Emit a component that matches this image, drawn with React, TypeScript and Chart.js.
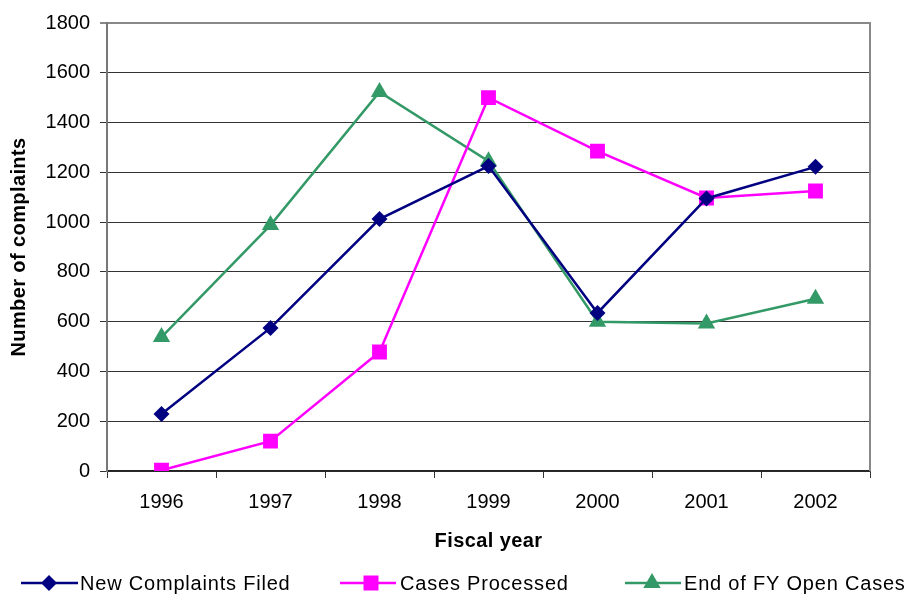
import React, { useEffect, useRef } from "react";
import { Chart, registerables } from "chart.js";

Chart.register(...registerables);

const years = ["1996", "1997", "1998", "1999", "2000", "2001", "2002"];
const newComplaints = [229, 575, 1012, 1225, 635, 1095, 1222];
const casesProcessed = [3, 120, 478, 1500, 1285, 1097, 1125];
const openCases = [538, 988, 1523, 1245, 600, 593, 692];
const seriesNames = ["New Complaints Filed", "Cases Processed", "End of FY Open Cases"];
const seriesColors = ["#000080", "#FF00FF", "#339966"];
const seriesShapes = ["rectRot", "rect", "triangle"];
const seriesRadius = [8, 10.5, 10];

const FONT = "'Liberation Sans', Arial, sans-serif";

const overlay = {
  id: "overlay",
  afterDraw(chart: any) {
    const ctx = chart.ctx;
    const a = chart.chartArea;
    ctx.save();
    // right border
    ctx.strokeStyle = "#888888";
    ctx.lineWidth = 2;
    ctx.beginPath();
    ctx.moveTo(a.right, a.top - 1);
    ctx.lineTo(a.right, a.bottom);
    ctx.stroke();
    // axis titles
    ctx.fillStyle = "#000";
    ctx.font = `bold 20px ${FONT}`;
    ctx.textAlign = "center";
    ctx.textBaseline = "middle";
    (ctx as any).letterSpacing = "0.4px";
    ctx.fillText("Fiscal year", (a.left + a.right) / 2, 541);
    ctx.save();
    ctx.translate(19, (a.top + a.bottom) / 2);
    ctx.rotate(-Math.PI / 2);
    ctx.fillText("Number of complaints", 0, 0);
    ctx.restore();
    // legend
    const items = [
      { x0: 21, x1: 78, cx: 49, tx: 80 },
      { x0: 340, x1: 396, cx: 371, tx: 400 },
      { x0: 625, x1: 681, cx: 652, tx: 684 },
    ];
    const ly = 583;
    ctx.font = `20px ${FONT}`;
    (ctx as any).letterSpacing = "0.8px";
    ctx.textAlign = "left";
    items.forEach((it, i) => {
      ctx.strokeStyle = seriesColors[i];
      ctx.lineWidth = 2.5;
      ctx.beginPath();
      ctx.moveTo(it.x0, ly);
      ctx.lineTo(it.x1, ly);
      ctx.stroke();
      ctx.fillStyle = seriesColors[i];
      const cx = it.cx;
      ctx.beginPath();
      if (i === 0) {
        ctx.moveTo(cx, ly - 8);
        ctx.lineTo(cx + 8, ly);
        ctx.lineTo(cx, ly + 8);
        ctx.lineTo(cx - 8, ly);
      } else if (i === 1) {
        ctx.rect(cx - 7.5, ly - 7.5, 15, 15);
      } else {
        ctx.moveTo(cx, ly - 10);
        ctx.lineTo(cx + 8.7, ly + 5);
        ctx.lineTo(cx - 8.7, ly + 5);
      }
      ctx.closePath();
      ctx.fill();
      ctx.fillStyle = "#000";
      ctx.fillText(seriesNames[i], it.tx, ly + 1);
    });
    ctx.restore();
  },
};

export default function App() {
  const ref = useRef<HTMLCanvasElement>(null);
  useEffect(() => {
    const data = [newComplaints, casesProcessed, openCases];
    const chart = new Chart(ref.current!, {
      type: "line",
      data: {
        labels: years,
        datasets: data.map((d, i) => ({
          label: seriesNames[i],
          data: d,
          borderColor: seriesColors[i],
          backgroundColor: seriesColors[i],
          borderWidth: 2.5,
          pointStyle: seriesShapes[i] as any,
          pointRadius: seriesRadius[i],
          pointBorderWidth: 0,
          pointHoverRadius: seriesRadius[i],
          tension: 0,
          fill: false,
        })),
      },
      options: {
        animation: false,
        responsive: false,
        layout: { padding: { left: 0, right: 34, top: 23, bottom: 0 } },
        plugins: { legend: { display: false }, tooltip: { enabled: false } },
        scales: {
          x: {
            offset: true,
            grid: {
              offset: true,
              drawOnChartArea: false,
              drawTicks: true,
              tickLength: 7,
              color: "#333333",
            },
            border: { display: true, color: "#222222", width: 1.5 },
            ticks: { color: "#000", font: { family: FONT, size: 20 }, padding: 12 },
            afterFit: (s: any) => {
              s.height = 124;
            },
          },
          y: {
            min: 0,
            max: 1800,
            ticks: {
              stepSize: 200,
              color: "#000",
              font: { family: FONT, size: 20 },
              padding: 10,
              callback: (v: any) => String(v),
            },
            grid: {
              color: (c: any) => (c.tick && c.tick.value === 1800 ? "#888888" : "#333333"),
              lineWidth: (c: any) => (c.tick && c.tick.value === 1800 ? 2 : 1),
              tickLength: 7,
            },
            border: { display: true, color: "#777777", width: 2 },
            afterFit: (s: any) => {
              s.width = 107;
            },
          },
        },
      },
      plugins: [overlay],
    });
    return () => chart.destroy();
  }, []);
  return (
    <div style={{ position: "fixed", left: 0, top: 0, width: 904, height: 595, background: "#fff" }}>
      <canvas ref={ref} width={904} height={595} style={{ width: 904, height: 595 }} />
    </div>
  );
}
